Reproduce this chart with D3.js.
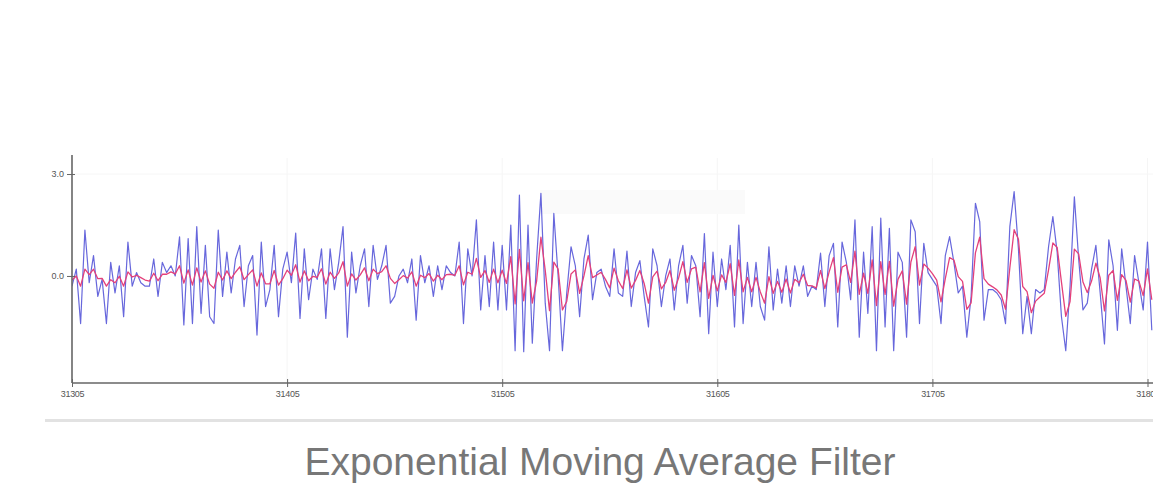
<!DOCTYPE html>
<html><head><meta charset="utf-8">
<script src="https://cdn.jsdelivr.net/npm/d3@7"></script>
<style>html,body{margin:0;padding:0;background:#fff;overflow:hidden}</style>
</head><body>
<svg id="chart" width="1153" height="493"></svg>
<script>
// sample index start and step (samples between stored points)
const startSample = 31305;
const sampleStep = 2;
const xTicks = [31305, 31405, 31505, 31605, 31705, 31805];
const yTicks = [0.0, 3.0];
const yTickLabels = ["0.0", "3.0"];
const title = "Exponential Moving Average Filter";

// raw signal (blue)
const raw = [
-0.3,0.2,-1.4,1.35,-0.2,0.6,-0.6,-0.1,-1.4,0.4,-0.5,0.3,-1.2,1.0,-0.3,0.1,-0.2,-0.3,-0.3,0.5,
-0.6,0.4,0.1,0.3,0.0,1.15,-1.44,1.1,-1.4,1.45,-1.1,0.9,-1.2,-1.4,1.35,-0.6,0.7,-0.5,0.5,0.9,
-0.9,0.3,0.6,-1.74,1.0,-0.9,-0.4,0.9,-1.2,0.2,0.7,-0.2,1.26,-1.25,0.8,-0.7,0.2,-0.1,0.8,-1.25,
0.8,-0.4,0.4,
1.45,-1.8,0.7,-0.5,0.3,0.8,-0.9,0.9,-0.1,0.3,0.9,-0.8,-0.6,0.0,0.2,-0.2,0.5,-1.3,0.6,-0.2,
0.3,-0.6,0.3,-0.4,0.3,0.1,0.0,1.0,-1.4,0.8,0.0,1.65,-1.0,0.6,-0.9,1.0,-1.0,0.9,-1.0,1.5,
-2.2,2.38,-2.23,1.5,-1.98,0.5,2.43,-0.8,-2.2,1.84,0.0,-2.2,-0.5,0.86,0.3,-1.2,0.5,1.2,-0.7,0.1,
0.2,-0.3,-0.6,
0.8,-0.5,-0.6,0.73,-0.9,0.1,0.45,-0.6,-1.5,0.8,0.3,-0.9,0.0,0.5,-1.0,0.3,0.9,-0.8,0.6,0.3,
-1.2,1.25,-1.7,0.7,-0.9,0.5,-0.4,0.9,-1.5,1.5,-1.4,0.4,-0.9,0.4,-0.9,-1.3,0.86,-1.0,0.2,-0.8,
0.3,-0.9,0.3,-0.3,0.3,-0.6,-0.3,-0.4,0.67,-0.9,0.6,0.96,-1.5,1.0,0.4,-0.7,1.65,-1.8,0.7,-1.1,
1.45,-2.2,1.7,
-1.5,1.4,-2.2,0.7,0.4,-1.8,1.65,1.3,-1.4,0.96,0.1,-0.1,-0.3,-1.4,0.6,1.16,0.4,-0.5,-0.3,-1.8,
-0.6,2.14,1.6,-1.3,-0.4,-0.4,-0.5,-0.7,-1.4,1.45,2.48,0.8,-1.7,-0.6,-1.7,-0.4,-0.5,-0.4,0.86,1.75,
0.7,-1.2,-2.2,-0.3,2.33,0.5,-1.0,-0.8,0.2,0.9,-0.5,-2.0,1.06,0.3,-1.6,0.8,-0.3,-1.4,0.6,-0.2,
-1.0,1.0,-1.6
];

// filtered signal (red)
const filtered = [
-0.12,0.0,-0.3,0.2,0.04,0.2,-0.08,-0.07,-0.3,-0.11,-0.2,-0.01,-0.3,0.12,-0.03,0.02,-0.05,-0.12,-0.15,0.08,
-0.14,0.05,0.05,0.12,0.06,0.3,-0.21,0.18,-0.27,0.24,-0.18,0.15,-0.24,-0.36,0.11,-0.12,0.15,-0.08,0.11,0.27,
-0.11,0.04,0.18,-0.3,0.09,-0.23,-0.23,0.16,-0.27,-0.08,0.17,0.02,0.33,-0.18,0.15,-0.14,-0.01,-0.04,0.21,-0.24,
0.11,-0.07,0.09,
0.42,-0.3,0.06,-0.12,0.03,0.24,-0.14,0.2,0.07,0.13,0.3,-0.07,-0.22,-0.11,0.01,-0.06,0.12,-0.3,0.02,-0.05,
0.07,-0.15,0.02,-0.11,0.04,0.05,0.02,0.3,-0.26,0.11,0.05,0.52,-0.04,0.16,-0.19,0.2,-0.2,0.17,-0.22,0.57,
-0.82,0.78,-0.73,0.39,-0.8,-0.15,1.14,0.17,-1.02,0.41,0.2,-1.0,-0.75,0.06,0.18,-0.51,0.0,0.6,-0.05,0.03,
0.11,-0.1,-0.35,
0.23,-0.14,-0.37,0.18,-0.36,-0.13,0.16,-0.22,-0.8,-0.03,0.14,-0.38,-0.19,0.16,-0.42,-0.06,0.42,-0.19,0.21,0.26,
-0.47,0.39,-0.66,0.02,-0.44,0.03,-0.19,0.36,-0.57,0.47,-0.47,-0.04,-0.47,-0.04,-0.47,-0.8,-0.02,-0.51,-0.16,-0.48,
-0.09,-0.5,-0.1,-0.2,0.05,-0.28,-0.29,-0.35,0.16,-0.37,0.12,0.54,-0.48,0.26,0.33,-0.19,0.73,-0.54,0.08,-0.51,
0.47,-0.87,0.42,
-0.54,0.43,-0.89,-0.1,0.15,-0.83,0.41,0.86,-0.27,0.35,0.23,0.07,-0.12,-0.76,-0.08,0.54,0.47,-0.02,-0.16,-0.98,
-0.79,0.68,1.14,-0.08,-0.24,-0.32,-0.41,-0.56,-0.98,0.24,1.36,1.08,-0.31,-0.46,-1.08,-0.74,-0.62,-0.51,0.18,0.97,
0.84,-0.18,-1.19,-0.75,0.79,0.65,-0.18,-0.49,-0.15,0.38,-0.06,-1.03,0.02,0.16,-0.72,0.04,-0.13,-0.77,-0.09,-0.15,
-0.58,0.21,-0.7
];

const svg = d3.select("#chart");
const W = 1153;
const x = d3.scaleLinear().domain([31305, 31805]).range([72, 1147.5]);
const y = d3.scaleLinear().domain([-3.15, 3.56]).range([383, 155]);

// faint grid
const grid = svg.append("g");
grid.selectAll("line.v").data(xTicks.slice(1)).join("line")
  .attr("x1", d => x(d)).attr("x2", d => x(d))
  .attr("y1", 158).attr("y2", 383)
  .attr("stroke", "#f5f5f5").attr("stroke-width", 1);
grid.append("line").attr("x1", 72).attr("x2", W).attr("y1", y(3)).attr("y2", y(3))
  .attr("stroke", "#f6f6f6").attr("stroke-width", 1);
// faint box (artifact in original)
svg.append("rect").attr("x", 540).attr("y", 190).attr("width", 205).attr("height", 24)
  .attr("fill", "#fafafa");

const line = d3.line()
  .x((d, i) => x(startSample + i * sampleStep))
  .y(d => y(d));

svg.append("clipPath").attr("id", "clip").append("rect")
  .attr("x", 72).attr("y", 150).attr("width", W - 72).attr("height", 233);

const plot = svg.append("g").attr("clip-path", "url(#clip)");
plot.append("path").datum(raw).attr("d", line)
  .attr("fill", "none").attr("stroke", "#5656d8").attr("stroke-width", 1.2)
  .attr("stroke-opacity", 0.9).attr("stroke-linejoin", "round");
plot.append("path").datum(filtered).attr("d", line)
  .attr("fill", "none").attr("stroke", "#e4407a").attr("stroke-width", 1.3)
  .attr("stroke-linejoin", "round");

// axes
const axisColor = "#666";
const xAxis = d3.axisBottom(x).tickValues(xTicks).tickFormat(d3.format("d")).tickSize(4).tickPadding(4);
const gx = svg.append("g").attr("transform", "translate(0,383)").call(xAxis);
gx.select(".domain").attr("d", `M72,0H${W}`).attr("stroke", axisColor).attr("stroke-width", 1.6);
gx.selectAll(".tick line").attr("stroke", axisColor).attr("y1", -4).attr("y2", 4);
gx.selectAll(".tick text").attr("fill", "#555").attr("font-family", "Liberation Sans, Arial, sans-serif")
  .attr("font-size", 9).attr("letter-spacing", -0.3);

const yAxis = d3.axisLeft(y).tickValues(yTicks).tickFormat((d, i) => yTickLabels[i]).tickSize(5).tickPadding(3);
const gy = svg.append("g").attr("transform", "translate(72,0)").call(yAxis);
gy.select(".domain").attr("d", "M0,155V383").attr("stroke", axisColor).attr("stroke-width", 1.6);
gy.selectAll(".tick line").attr("stroke", axisColor).attr("x1", -5).attr("x2", 3);
gy.selectAll(".tick text").attr("fill", "#555").attr("font-family", "Liberation Sans, Arial, sans-serif")
  .attr("font-size", 9);

// separator
svg.append("rect").attr("x", 45).attr("y", 419).attr("width", W - 45).attr("height", 3).attr("fill", "#e2e2e2");

// title
svg.append("text").attr("x", 600).attr("y", 475).attr("text-anchor", "middle")
  .attr("font-family", "Liberation Sans, Arial, sans-serif").attr("font-size", 39)
  .attr("fill", "#777").text(title);
</script>
</body></html>
